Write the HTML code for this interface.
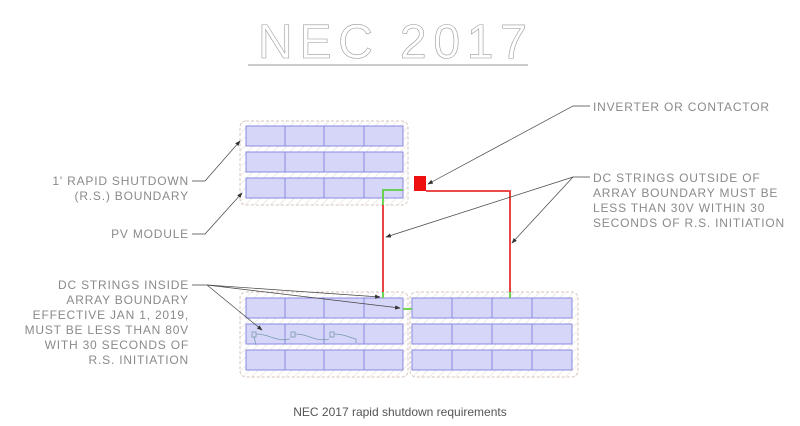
<!DOCTYPE html>
<html><head><style>
html,body{margin:0;padding:0;background:#fff;}
svg{display:block}
</style></head><body>
<svg width="800" height="426" viewBox="0 0 800 426" xmlns="http://www.w3.org/2000/svg">
<defs>
<pattern id="h" width="6" height="6" patternUnits="userSpaceOnUse" patternTransform="rotate(45)">
<rect width="6" height="6" fill="#fff"/><line x1="0" y1="0" x2="0" y2="6" stroke="#e6dcd6" stroke-width="1.2"/>
</pattern>
<marker id="a" markerWidth="8" markerHeight="6" refX="7" refY="3" orient="auto"><path d="M0,0 L8,3 L0,6 Z" fill="#333"/></marker>
</defs>
<!-- title -->
<text x="258" y="58" textLength="269" lengthAdjust="spacing" font-family="Liberation Sans, sans-serif" font-size="48" fill="none" stroke="#9a9a9a" stroke-width="0.6">NEC 2017</text>
<line x1="248" y1="65" x2="528" y2="65" stroke="#999" stroke-width="1"/>

<!-- boundaries -->
<rect x="240" y="121" width="168" height="84" rx="6" fill="url(#h)" stroke="#d6c4bc" stroke-dasharray="3,2"/>
<rect x="240" y="292" width="168" height="85" rx="6" fill="url(#h)" stroke="#d6c4bc" stroke-dasharray="3,2"/>
<rect x="410" y="292" width="168" height="85" rx="6" fill="url(#h)" stroke="#d6c4bc" stroke-dasharray="3,2"/>

<g fill="#d6d6f8" stroke="#8a8ae0" stroke-width="1">
<rect x="246" y="126" width="157" height="20"/><rect x="246" y="152" width="157" height="20"/><rect x="246" y="178" width="157" height="20"/>
<rect x="246" y="298" width="157" height="20"/><rect x="246" y="324" width="157" height="20"/><rect x="246" y="350" width="157" height="20"/>
<rect x="412" y="298" width="160" height="20"/><rect x="412" y="324" width="160" height="20"/><rect x="412" y="350" width="160" height="20"/>
</g>
<g stroke="#8a8ae0" stroke-width="1">
<path d="M285,126v20M324,126v20M364,126v20M285,152v20M324,152v20M364,152v20M285,178v20M324,178v20M364,178v20"/>
<path d="M285,298v20M324,298v20M364,298v20M285,324v20M324,324v20M364,324v20M285,350v20M324,350v20M364,350v20"/>
<path d="M452,298v20M492,298v20M532,298v20M452,324v20M492,324v20M532,324v20M452,350v20M492,350v20M532,350v20"/>
</g>
<g fill="none" stroke="#7a9ab0" stroke-width="0.8">
<rect x="252" y="332" width="4" height="5"/><rect x="291" y="332" width="4" height="5"/><rect x="330" y="332" width="4" height="5"/>
<path d="M256,334 C270,334 275,342 290,339 M295,334 C310,334 314,342 329,339 M334,334 C345,334 350,338 356,339 L356,343 M254,337 L256,345"/>
</g>

<!-- wires -->
<path d="M426,191 H510 V292" fill="none" stroke="#e83030" stroke-width="1.8"/>
<path d="M383,205 V292" fill="none" stroke="#e83030" stroke-width="1.8"/>
<path d="M403,190 H383 V205 M383,292 V298 M510,292 V298 M403,309 H412" fill="none" stroke="#5ed040" stroke-width="1.8"/>
<rect x="414" y="176" width="12" height="15" fill="#ee1010"/>

<!-- leaders -->
<g stroke="#444" stroke-width="0.7" fill="none">
<path d="M192,181 H205 L240,141" marker-end="url(#a)"/>
<path d="M192,234 H205 L242,193" marker-end="url(#a)"/>
<path d="M192,285 H207 L380,297" marker-end="url(#a)"/>
<path d="M207,285 L400,308" marker-end="url(#a)"/>
<path d="M207,285 L262,330" marker-end="url(#a)"/>
<path d="M590,106 H573 L428,184" marker-end="url(#a)"/>
<path d="M590,177 H573 L386,237" marker-end="url(#a)"/>
<path d="M573,177 L512,243" marker-end="url(#a)"/>
</g>

<g font-family="Liberation Sans, sans-serif" font-size="12" fill="#8a8a8a" letter-spacing="0.8">
<g text-anchor="end">
<text x="189" y="185">1' RAPID SHUTDOWN</text>
<text x="189" y="200">(R.S.) BOUNDARY</text>
<text x="189" y="238">PV MODULE</text>
<text x="189" y="289">DC STRINGS INSIDE</text>
<text x="189" y="304">ARRAY BOUNDARY</text>
<text x="189" y="319">EFFECTIVE JAN 1, 2019,</text>
<text x="189" y="334">MUST BE LESS THAN 80V</text>
<text x="189" y="349">WITH 30 SECONDS OF</text>
<text x="189" y="364">R.S. INITIATION</text>
</g>
<text x="593" y="111">INVERTER OR CONTACTOR</text>
<text x="593" y="182">DC STRINGS OUTSIDE OF</text>
<text x="593" y="197">ARRAY BOUNDARY MUST BE</text>
<text x="593" y="212">LESS THAN 30V WITHIN 30</text>
<text x="593" y="227">SECONDS OF R.S. INITIATION</text>
</g>
<text x="400" y="416" text-anchor="middle" font-family="Liberation Sans, sans-serif" font-size="12" fill="#555">NEC 2017 rapid shutdown requirements</text>
</svg>
</body></html>
